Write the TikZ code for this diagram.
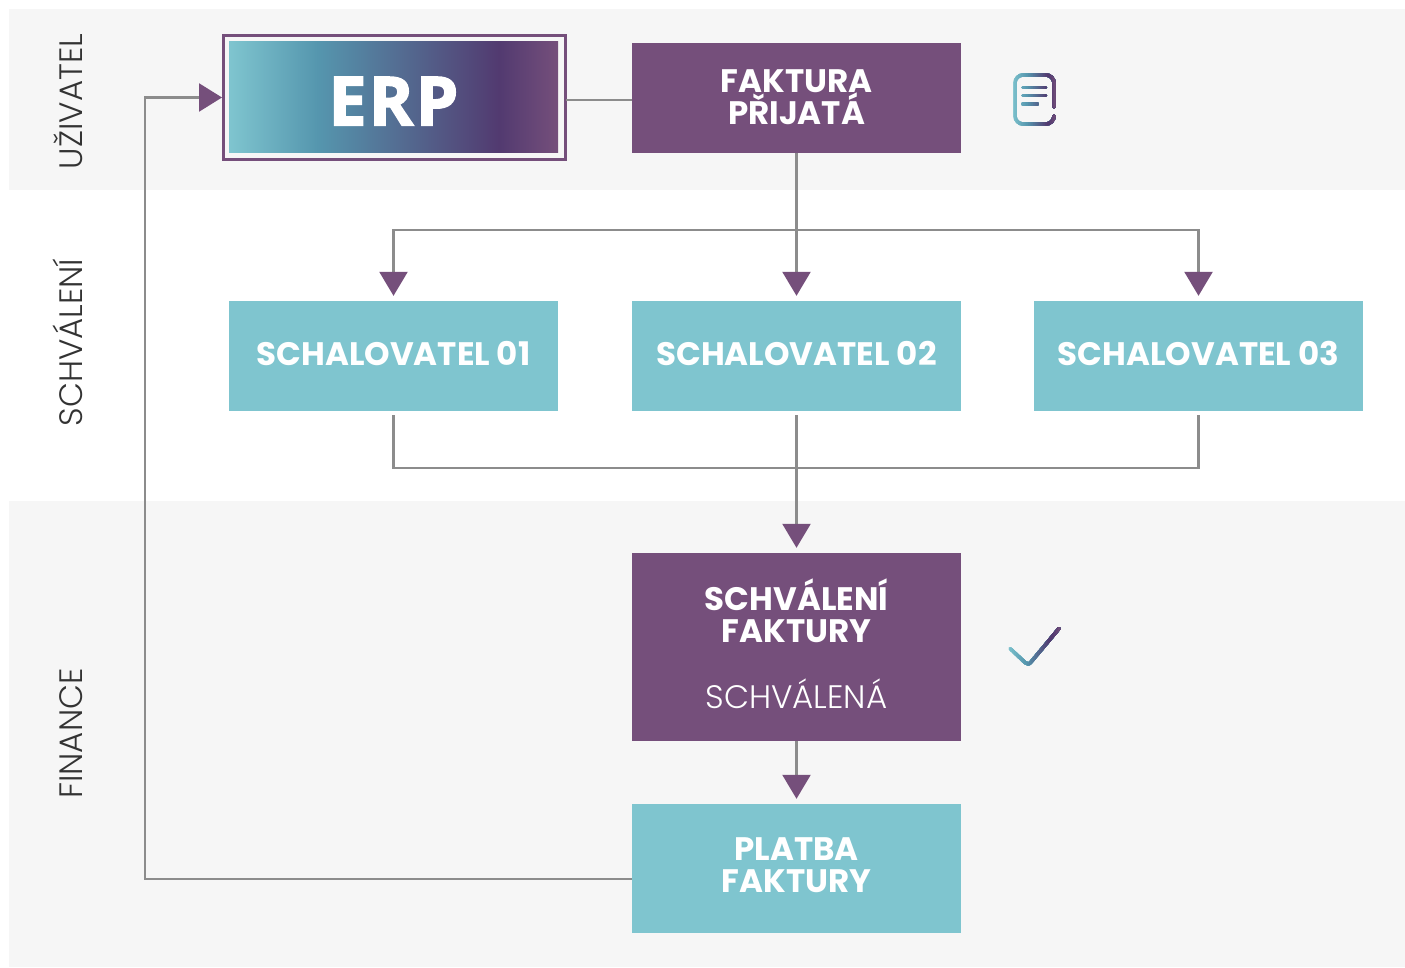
\documentclass[tikz,border=0pt]{standalone}
\usepackage{fontspec}
\usetikzlibrary{arrows.meta,calc}
\setmainfont{Poppins}[UprightFont={* Bold},BoldFont={* Bold}]
\newfontfamily\plight{Poppins}[UprightFont={* Light}]
\newfontfamily\erpfont{Open Sans}[UprightFont={* Bold},FakeBold=2.2,LetterSpace=3]
\definecolor{panel}{HTML}{F6F6F6}
\definecolor{plum}{HTML}{754F7B}
\definecolor{teal}{HTML}{7FC5CF}
\definecolor{wire}{HTML}{8C8C8C}
\definecolor{gA}{HTML}{5596AE}
\definecolor{gB}{HTML}{523A70}
\pgfdeclarehorizontalshading{erpgrad}{100bp}{
 color(0bp)=(teal); color(25bp)=(teal); color(38.5bp)=(gA); color(66bp)=(gB); color(75bp)=(plum); color(100bp)=(plum)}
\newcommand{\dn}{\rule[-6pt]{0pt}{1pt}}
\newcommand{\dnsmall}{\rule[-8pt]{0pt}{1pt}}
\tikzset{
 x=1pt,y=-1pt,
 box/.style={inner sep=0pt,minimum width=329pt,text=white,align=center,font=\fontsize{32.5}{32}\selectfont},
 plumbox/.style={box,fill=plum},
 tealbox/.style={box,fill=teal},
 wireline/.style={draw=wire,line width=2.4pt},
 arrowline/.style={wireline,-{Triangle[length=24pt,width=28pt,color=plum]},shorten >=5pt},
 sidearrow/.style={wireline,-{Triangle[length=23pt,width=28pt,color=plum]},shorten >=-0.5pt},
 side/.style={rotate=90,anchor=base,font=\plight\fontsize{32.4}{34}\selectfont,text=black!80,inner sep=0pt},
 iconstroke/.style={line width=3.4pt,line cap=round,line join=round},
}
% strokes drawn strip by strip to follow the left-to-right gradient
\newcommand{\gradstrokes}[5]{% x0, x1, ytop, ybottom, paths
 \foreach \s in {0,...,26}{
  \pgfmathsetmacro{\xa}{#1+(#2-#1)*\s/27}
  \pgfmathsetmacro{\pc}{\s/26*100}
  \pgfmathsetmacro{\pa}{min(100,\pc/0.35)}
  \pgfmathsetmacro{\pb}{max(0,(\pc-35)/0.45)}
  \pgfmathsetmacro{\pd}{max(0,(\pc-85)/0.15)}
  \pgfmathtruncatemacro{\pA}{min(100,\pa)}
  \pgfmathtruncatemacro{\pB}{min(100,\pb)}
  \pgfmathtruncatemacro{\pD}{min(100,\pd)}
  \colorlet{sc}{gA!\pA!teal}
  \colorlet{sc}{gB!\pB!sc}
  \colorlet{sc}{plum!\pD!sc}
  \begin{scope}
   \clip (\xa,#3) rectangle (#2,#4);
   \begin{scope}[draw=sc,iconstroke] #5 \end{scope}
  \end{scope}
 }}
\begin{document}
\begin{tikzpicture}
\useasboundingbox (0,0) rectangle (1405,968);
\fill[white] (0,0) rectangle (1405,968);
\fill[panel] (9,9) rectangle (1405,190);
\fill[panel] (9,501) rectangle (1405,967);

\node[side] (lu) at (82,101.5) {UŽIVATEL};
\node[side] (ls) at (82,342.5) {SCHVÁLENÍ};
\node[side] (lf) at (82,733.5) {FINANCE};

\node[draw=plum,line width=3pt,inner sep=0pt,minimum width=342pt,minimum height=124pt] (erp) at (394,97.5) {};
\node[inner sep=0pt,minimum width=329pt,minimum height=111pt,shading=erpgrad,text=white,font=\erpfont\fontsize{68}{70}\selectfont] (erpin) at (393.5,97.5) {\rule{0pt}{56pt}ERP};

\node[plumbox,minimum height=110pt] (fakt) at (796.5,98) {FAKTURA\\PŘIJATÁ\rule[-2pt]{0pt}{1pt}};
\node[tealbox,minimum height=110pt] (s1) at (393.5,356) {SCHALOVATEL 01\dn};
\node[tealbox,minimum height=110pt] (s2) at (796.5,356) {SCHALOVATEL 02\dn};
\node[tealbox,minimum height=110pt] (s3) at (1198.5,356) {SCHALOVATEL 03\dn};
\node[plumbox,minimum height=188pt] (schv) at (796.5,647) {SCHVÁLENÍ\\FAKTURY\\[34pt]{\plight SCHVÁLENÁ}\dn};
\node[tealbox,minimum height=129pt] (plat) at (796.5,868.5) {PLATBA\\FAKTURY\dn};

\coordinate (jt) at (796.5,230);
\coordinate (jb) at (796.5,468);
\coordinate (loopb) at (145,879);
\coordinate (loopt) at (145,97.5);
\coordinate (erpr) at (566,100);

\draw[wireline] (erpr) -- (fakt.west|-erpr);
\draw[arrowline] (fakt.south) -- (s2.north);
\draw[arrowline] (jt) -| (s1.north);
\draw[arrowline] (jt) -| (s3.north);
\draw[wireline] ($(s1.south)+(0,4)$) |- (jb);
\draw[wireline] ($(s3.south)+(0,4)$) |- (jb);
\draw[arrowline] ($(s2.south)+(0,4)$) -- (schv.north);
\draw[arrowline] (schv.south) -- (plat.north);
\draw[sidearrow] (plat.west|-loopb) -- (loopb) -- (loopt) -- (erp.west);

\gradstrokes{1011}{1057}{70}{128}{
 \draw (1054,107) -- (1054,83) arc[start angle=0,end angle=-90,radius=8] -- (1023,75) arc[start angle=-90,end angle=-180,radius=8] -- (1015,116) arc[start angle=180,end angle=90,radius=8] -- (1046,124) arc[start angle=90,end angle=0,radius=8];
 \draw (1023,87.5) -- (1045.5,87.5);
 \draw (1023,95.7) -- (1045.5,95.7);
 \draw (1023,104) -- (1037,104);
}
\gradstrokes{1006}{1062}{624}{670}{
 \draw (1010,648.5) -- (1025,662.5) .. controls (1027,664.5) and (1029,664.5) .. (1031,662) -- (1059,628.5);
}
\end{tikzpicture}
\end{document}
